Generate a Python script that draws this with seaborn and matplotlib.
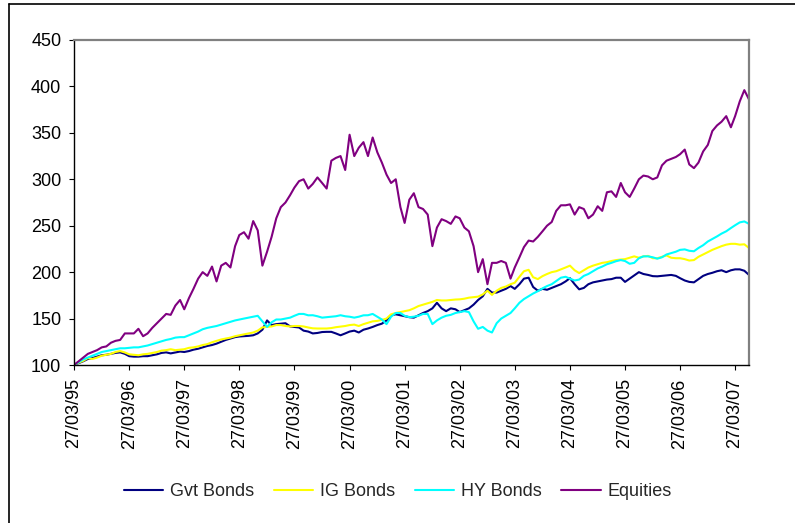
import pandas as pd
import matplotlib
matplotlib.use("Agg")
import matplotlib.pyplot as plt
import matplotlib.dates as mdates
from matplotlib.lines import Line2D
import seaborn as sns

# Monthly index levels (base 100 on 27/03/95)
start_date = "1995-03-27"

gvt_bonds = [
    100, 102, 104, 106.5, 107.5, 109, 110.5, 111, 112, 113,
    113.6, 112, 109.5, 109, 109, 109.5, 109.5, 110.5, 111.5, 113,
    113.6, 112.5, 113.5, 114.5, 114, 115, 116.5, 117.5, 119, 120.5,
    121.5, 123, 125, 127, 128.5, 130, 130.7, 131, 131.4, 132,
    134, 138, 148, 143, 144, 144.5, 145, 141.5, 141, 140.4,
    137, 136, 134, 134.5, 135.5, 135.7, 135.7, 134, 132, 134,
    136, 137, 135, 138, 139.3, 141, 143, 144.5, 148, 153.5,
    154.6, 153.5, 152.5, 151.5, 151, 153.5, 156, 158, 161, 167,
    161, 158, 161, 160, 157, 159, 161, 165, 170, 174,
    182, 178, 178, 180, 182, 185, 182,
    187, 193, 194, 184, 180, 182, 181, 183, 185, 187,
    190, 193.5, 187, 181.5, 183, 187, 189, 190, 191, 192,
    192.5, 194, 194, 189.5, 193, 196.5, 200, 198, 197, 195.7,
    195.5, 196, 196.4, 197, 196, 193.5, 191, 189.5, 189, 192.5,
    196, 198, 199.3, 201, 202, 200, 202, 203, 203, 201.5,
    197,
]

ig_bonds = [
    100, 102.5, 104.5, 107.5, 106.5, 108, 110, 111, 112, 114,
    115, 113.5, 111.5, 111, 110.5, 111.5, 112, 113, 114, 115.5,
    116, 117, 116, 116.5, 117, 118.5, 119, 120, 121.5, 122.5,
    124.5, 126, 127.5, 128.5, 129.5, 131, 132, 133, 134, 135,
    137, 140.5, 141, 141.5, 143, 143, 142, 141.5, 142, 142,
    141.5, 140.4, 139.5, 139.3, 139.3, 139.3, 139.8, 140.7, 141.4, 142,
    143, 143.5, 142, 144, 145.5, 147, 147.5, 148.6, 150, 154.6,
    156, 157, 158, 159, 161, 163.5, 165, 166.5, 168, 170,
    169.5, 169.5, 170, 170.5, 170.7, 171.4, 172.5, 173, 173.6, 176,
    180, 175.5, 180, 183, 184.5, 187, 188.6,
    195, 201, 202.5, 194.5, 192.5, 195.7, 198, 200, 201, 203,
    205, 207, 202, 199, 202, 205, 207, 208.5, 210, 210.7,
    212, 213, 213.6, 214, 215.5, 217, 215.5, 217, 217.5, 215,
    215, 216.5, 218, 215.5, 215, 215, 214, 212.5, 213, 216.5,
    219, 221.5, 224, 226, 228, 229.6, 230.5, 230.5, 229.6, 230,
    226,
]

hy_bonds = [
    100, 103, 106, 108, 110, 112, 114, 115, 116, 117,
    118, 118, 118.5, 119, 119, 120, 121, 122.5, 124, 125.5,
    127, 128, 129.5, 130, 130, 132, 134, 136, 138.5, 140,
    141, 142, 143.5, 145, 146.5, 148, 149, 150, 151, 152,
    153, 147, 141, 146, 149, 149, 150, 151, 153, 155,
    155, 153.5, 153.6, 152.5, 151, 151.5, 152, 152.5, 153.6, 152.5,
    152, 151, 152, 153.5, 153.6, 155, 152, 149, 144, 152,
    156, 156, 153, 151.5, 152, 153, 155, 155, 144, 148,
    151, 153, 154, 156, 157, 158, 157, 147, 139, 141,
    137, 135,
    145, 150, 153, 156, 161, 167, 171, 174, 177, 179.5,
    182.5, 185, 187, 190.5, 194, 195, 193, 191, 192, 196,
    198, 201,
    204, 206, 208.5, 210, 211.8, 213, 212, 209, 210, 215,
    217, 217, 216, 214.5, 216, 219, 220.5, 222, 224, 224.5,
    223, 222.5, 226, 229, 233, 235.7, 238.5, 241.5, 244, 247.5,
    250.5, 253.6, 254.6, 252,
]

equities = [
    100, 104, 108, 112, 114, 116, 119, 120, 124, 126,
    127, 134, 134, 134, 139, 131, 134, 140, 145, 150,
    155, 154, 164, 170, 160, 172, 182, 193, 200, 196,
    206, 190, 207, 210, 205, 228, 240, 243, 236,
    255, 245, 207, 222, 238, 258, 270, 275, 283, 291,
    298, 300, 290, 295, 302, 296, 290, 320, 323, 325,
    310, 348, 325, 334, 340, 325, 345, 329, 318, 305,
    296, 300, 270, 253, 278, 285, 270,
    268, 262, 228, 248, 257, 255, 252, 260, 258, 248,
    244, 228, 200, 214, 187, 210, 210, 212, 210, 193,
    205, 216, 227, 234, 233, 238, 244, 250, 254, 266,
    272, 272, 273, 262, 270, 268, 258, 262,
    271, 266, 286, 287, 281, 296, 286, 281, 290, 300,
    304, 303, 300, 302, 315, 320, 322, 324, 327, 332,
    316, 312, 318, 330, 337, 352, 358, 362, 368, 356,
    368, 384, 396, 386,
]

series_names = ["Gvt Bonds", "IG Bonds", "HY Bonds", "Equities"]
series_colors = ["#000080", "#FFFF00", "#00FFFF", "#800080"]
tick_years = list(range(1995, 2008))
y_ticks = [100, 150, 200, 250, 300, 350, 400, 450]

dates = pd.date_range(start_date, periods=len(equities), freq=pd.DateOffset(months=1))
frames = []
for name, vals in zip(series_names, [gvt_bonds, ig_bonds, hy_bonds, equities]):
    frames.append(pd.DataFrame({"date": dates, "value": vals, "series": name}))
df = pd.concat(frames, ignore_index=True)

sns.set_theme(style="white")
plt.rcParams["font.family"] = ["Liberation Sans", "DejaVu Sans"]

W, H = 795, 523
fig = plt.figure(figsize=(W / 100, H / 100), dpi=100)
ax = fig.add_axes([74 / W, (H - 365) / H, 675 / W, 325 / H])

sns.lineplot(data=df, x="date", y="value", hue="series", hue_order=series_names,
             palette=series_colors, estimator=None, errorbar=None, sort=False,
             linewidth=1.5, ax=ax)

ax.set_xlim(dates[0], dates[-1])
ax.set_ylim(y_ticks[0], y_ticks[-1])
ax.set_yticks(y_ticks)
ax.set_xticks([pd.Timestamp(f"{y}-03-27") for y in tick_years])
ax.xaxis.set_major_formatter(mdates.DateFormatter("%d/%m/%y"))
ax.set_xlabel("")
ax.set_ylabel("")

ax.tick_params(axis="both", which="major", bottom=True, left=True, direction="out",
               length=3.6, width=0.8, color="black", labelcolor="black", labelsize=13)
ax.tick_params(axis="y", pad=5.5)
ax.tick_params(axis="x", pad=6, labelrotation=90)

for side in ("left", "bottom"):
    ax.spines[side].set_color("black")
    ax.spines[side].set_linewidth(1.0)
for side in ("top", "right"):
    ax.spines[side].set_color("#808080")
    ax.spines[side].set_linewidth(1.6)

handles, labels = ax.get_legend_handles_labels()
if ax.get_legend() is not None:
    ax.get_legend().remove()
fig.legend(handles, labels, loc="center", bbox_to_anchor=(0.5, 1 - 492 / H),
           bbox_transform=fig.transFigure, ncol=4, frameon=False, fontsize=13,
           handlelength=2.2, handletextpad=0.35, columnspacing=1.1)

# outer chart border (left and top edges)
fig.add_artist(Line2D([9 / W, 9 / W], [0, 1 - 4 / H], transform=fig.transFigure,
                      color="black", linewidth=1.2))
fig.add_artist(Line2D([9 / W, 1], [1 - 4 / H, 1 - 4 / H], transform=fig.transFigure,
                      color="black", linewidth=1.2))

fig.savefig("out.png", dpi=100)
